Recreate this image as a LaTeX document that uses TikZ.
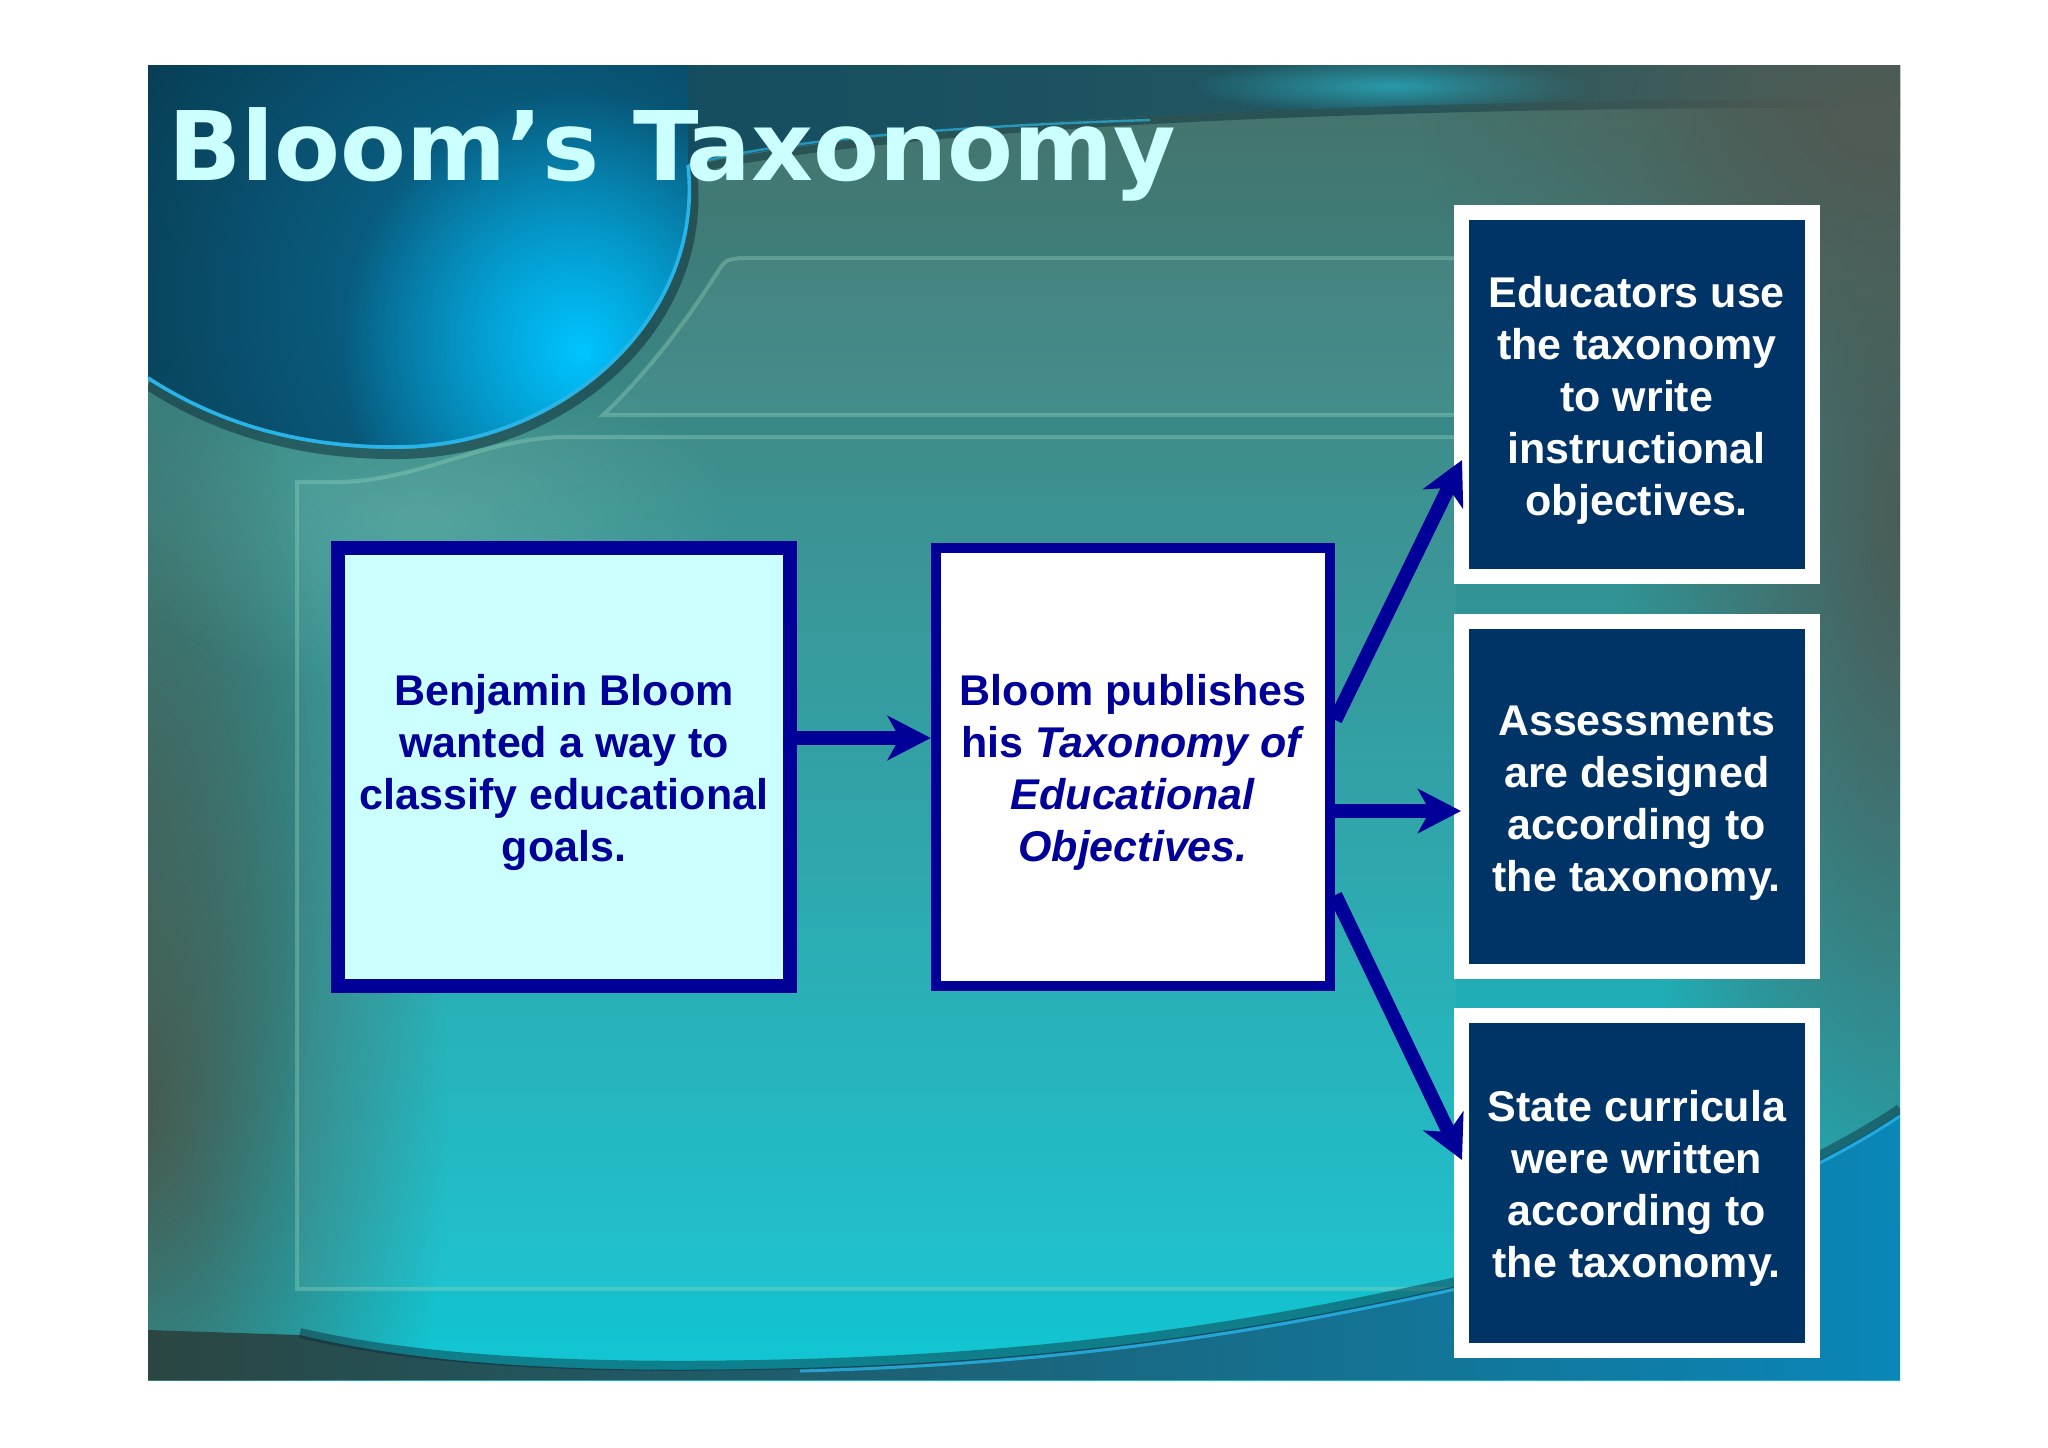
\documentclass[tikz,border=0pt]{standalone}
\usepackage{fontspec}
\setmainfont{Liberation Sans}
\newfontfamily\titlefont{DejaVu Sans}
\usetikzlibrary{arrows.meta,fadings}
\definecolor{navyline}{HTML}{000099}
\definecolor{boxnavy}{HTML}{003366}
\definecolor{paleCyan}{HTML}{CCFFFF}
\definecolor{bgTop}{HTML}{46716A}
\definecolor{bgMid}{HTML}{3A9496}
\definecolor{bgBot}{HTML}{12C6D4}
\definecolor{leftDark}{HTML}{465C52}
\definecolor{rightDark}{HTML}{4A5C58}
\definecolor{greyTR}{HTML}{505B55}
\definecolor{bandL}{HTML}{0A4660}
\definecolor{bandM}{HTML}{0C5262}
\definecolor{bandR}{HTML}{2E5E60}
\definecolor{sphMid}{HTML}{0A6E98}
\definecolor{sphDark}{HTML}{083C52}
\definecolor{sphBright}{HTML}{00C4FF}
\definecolor{edgeBright}{HTML}{28B4E8}
\definecolor{frameC}{HTML}{9AD8BE}
\definecolor{bowlL}{HTML}{2A4642}
\definecolor{bowlM}{HTML}{145A6C}
\definecolor{bowlR}{HTML}{0A86B8}
\definecolor{shadowC}{HTML}{0A2A36}
\definecolor{streak}{HTML}{2A9AAA}
\tikzfading[name=glow, inner color=transparent!0, outer color=transparent!100]
\newcommand\bodyfont{\fontsize{21.5}{26}\selectfont\bfseries}
\newcommand\lift{\rule{0pt}{21pt}}
\tikzset{
  bluebox/.style={draw=navyline, align=center, text=navyline, font=\bodyfont, inner sep=0pt},
  leftbox/.style={bluebox, fill=paleCyan, line width=7.25pt, minimum width=226pt, minimum height=219pt},
  midbox/.style={bluebox, fill=white, line width=5.25pt, minimum width=197pt, minimum height=219pt},
  outbox/.style={draw=white, fill=boxnavy, line width=7.5pt, text=white, align=center, font=\bodyfont, minimum width=175.25pt, inner sep=0pt},
  flow/.style={draw=navyline, line width=7pt, -{Stealth[length=21.5pt,width=22pt,inset=6pt]}},
  frameline/.style={draw=frameC, line width=2pt, opacity=0.35},
}
\begin{document}
\begin{tikzpicture}[x=0.5pt,y=-0.5pt]
\fill[white] (0,0) rectangle (2048,1447);
\useasboundingbox (0,0) rectangle (2048,1447);

% ---------- slide background ----------
\begin{scope}
\clip (148,65) rectangle (1900,1380);
\shade[top color=bgTop, middle color=bgMid, bottom color=bgBot] (148,65) rectangle (1900,1380);
\fill[leftDark, path fading=glow] (148,1100) ellipse (150pt and 360pt);
\fill[leftDark, path fading=glow, opacity=0.6] (148,800) ellipse (90pt and 260pt);
\fill[rightDark, path fading=glow] (1900,520) ellipse (140pt and 440pt);
\fill[frameC, path fading=glow, opacity=0.25] (420,520) ellipse (160pt and 90pt);

% faint frames
\fill[white, opacity=0.04] (297,1289) -- (297,482) -- (340,482) .. controls (420,480) and (480,440) .. (560,437) -- (1456,437) -- (1456,1289) -- cycle;
\fill[white, opacity=0.05] (603,415) .. controls (660,360) and (700,300) .. (720,268) .. controls (726,260) .. (740,258) -- (1456,258) -- (1456,415) -- cycle;
\draw[frameline] (1456,1289) -- (297,1289) -- (297,482) -- (340,482) .. controls (420,480) and (480,440) .. (560,437) -- (1456,437);
\draw[frameline] (1456,415) -- (603,415) .. controls (660,360) and (700,300) .. (720,268) .. controls (726,260) .. (740,258) -- (1456,258);

% dark top band
\shade[left color=bandL, middle color=bandM, right color=bandR]
  (148,65) -- (1900,65) -- (1900,100) .. controls (1400,98) and (900,118) .. (688,165)
  .. controls (705,320) and (560,445) .. (400,447) .. controls (290,448) and (210,418) .. (148,378) -- cycle;
\fill[streak, path fading=glow] (1390,86) ellipse (100pt and 14pt);
\draw[shadowC, opacity=0.45, line width=4pt] (1900,104) .. controls (1400,102) and (900,122) .. (690,170);
\draw[edgeBright, opacity=0.7, line width=1.2pt] (1150,120) .. controls (900,128) and (760,145) .. (688,165);
\fill[greyTR, path fading=glow] (1880,120) ellipse (230pt and 150pt);
\fill[greyTR, path fading=glow, opacity=0.7] (1900,100) ellipse (120pt and 60pt);

% sphere
\begin{scope}
\clip (148,65) -- (688,65) -- (688,165) .. controls (705,320) and (560,445) .. (400,447) .. controls (290,448) and (210,418) .. (148,378) -- cycle;
\shade[inner color=sphMid, outer color=sphDark] (520,300) circle (230pt);
\fill[sphBright, path fading=glow] (580,350) ellipse (120pt and 130pt);
\end{scope}
\draw[shadowC, opacity=0.5, line width=5pt] (692,170) .. controls (710,328) and (562,452) .. (400,454) .. controls (290,455) and (208,424) .. (148,385);
\draw[edgeBright, line width=1.8pt] (688,165) .. controls (705,320) and (560,445) .. (400,447) .. controls (290,448) and (210,418) .. (148,378);

% bottom bowl
\shade[left color=bowlL, middle color=bowlM, right color=bowlR]
  (300,1335) .. controls (450,1372) and (650,1372) .. (800,1368) .. controls (1100,1360) and (1300,1320) .. (1452,1287)
  .. controls (1650,1240) and (1800,1180) .. (1900,1113) -- (1900,1380) -- (148,1380) -- (148,1330) -- cycle;
\draw[shadowC, opacity=0.45, line width=5pt] (300,1333) .. controls (450,1368) and (650,1368) .. (800,1364) .. controls (1100,1356) and (1300,1316) .. (1452,1283) .. controls (1650,1236) and (1800,1176) .. (1900,1109);
\draw[edgeBright, opacity=0.8, line width=1.5pt] (800,1371) .. controls (1100,1363) and (1300,1323) .. (1452,1290) .. controls (1650,1243) and (1800,1183) .. (1900,1116);
\end{scope}

% ---------- title ----------
\node[anchor=base west, inner sep=0pt, text=paleCyan, font=\titlefont\bfseries\fontsize{48}{56}\selectfont] (title) at (168,180) {Bloom’s Taxonomy};

% ---------- boxes ----------
\node[leftbox] (L) at (564,767) {\lift Benjamin Bloom\\wanted a way to\\classify educational\\goals.};
\node[midbox] (M) at (1133,767) {\lift Bloom publishes\\his \textit{Taxonomy of}\\\textit{Educational}\\\textit{Objectives.}};
\node[outbox, minimum height=182pt] (R1) at (1636.75,394.5) {\lift Educators use\\the taxonomy\\to write\\instructional\\objectives.};
\node[outbox, minimum height=175pt] (R2) at (1636.75,796.5) {\lift Assessments\\are designed\\according to\\the taxonomy.};
\node[outbox, minimum height=167.5pt] (R3) at (1636.75,1183) {\lift State curricula\\were written\\according to\\the taxonomy.};

% ---------- arrows ----------
\draw[flow] ([yshift=14.5pt]L.east) -- ([yshift=14.5pt]M.west);
\draw[flow] ([yshift=23.5pt]M.east) -- ([xshift=4pt,yshift=-32.75pt]R1.west);
\draw[flow] ([yshift=-22pt]M.east) -- ([xshift=3.5pt,yshift=-7.25pt]R2.west);
\draw[flow] ([yshift=-64pt]M.east) -- ([xshift=4pt,yshift=11.5pt]R3.west);
\end{tikzpicture}
\end{document}
